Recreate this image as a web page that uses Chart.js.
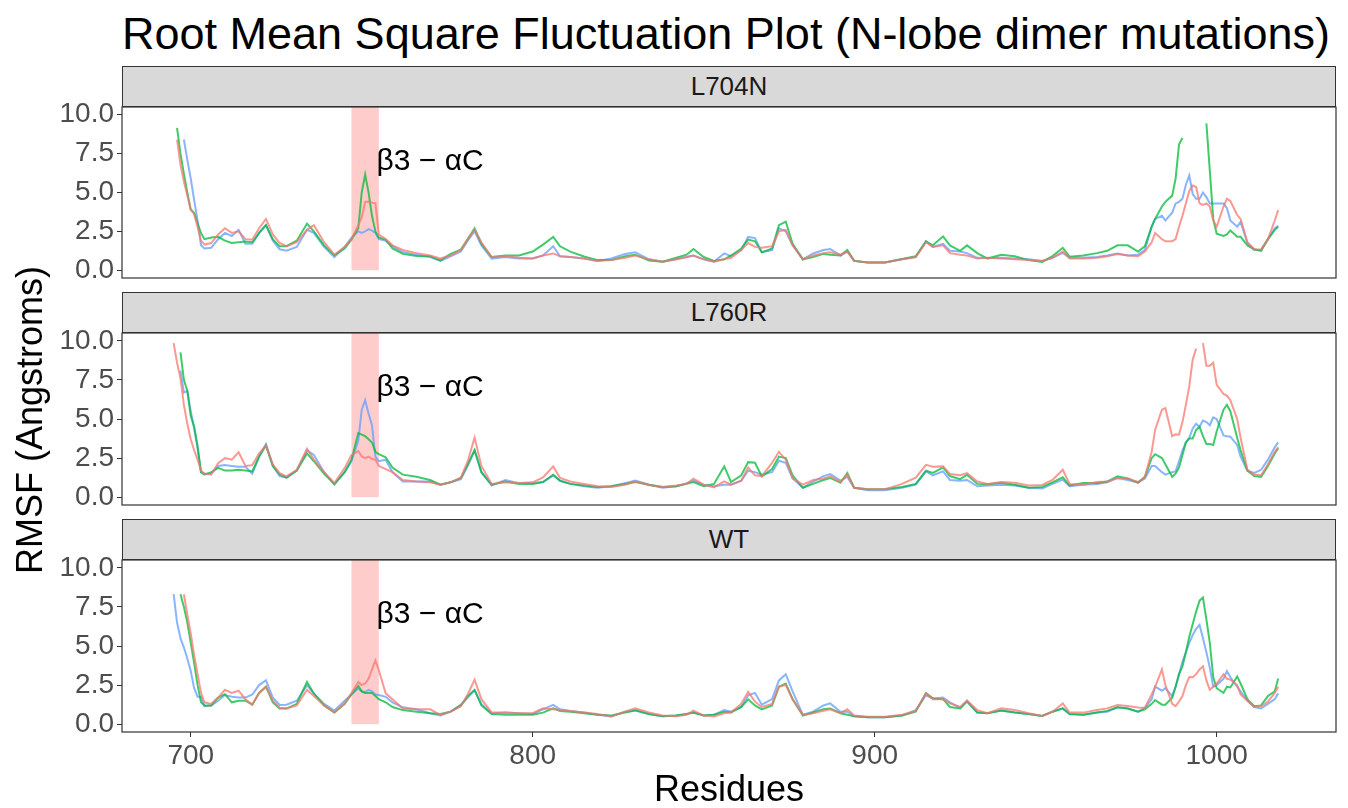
<!DOCTYPE html>
<html>
<head>
<meta charset="utf-8">
<script src="https://cdn.jsdelivr.net/npm/chart.js@4.4.1/dist/chart.umd.min.js"></script>
<style>
  body { margin: 0; background: #fff; font-family: "Liberation Sans", Arial, sans-serif; }
  #wrap { position: relative; width: 1348px; height: 808px; overflow: hidden; background: #fff; }
  canvas { position: absolute; left: 0; }
  .strip { position: absolute; left: 122px; width: 1212px; height: 39px; background: #d9d9d9;
           border: 1px solid #333; color: #1a1a1a; font-size: 26px; line-height: 39px; text-align: center; }
  .title { position: absolute; left: 122px; top: 8px; font-size: 45px; line-height: 52px; color: #000; white-space: nowrap; }
  .ylab { position: absolute; left: 30px; top: 420px; font-size: 36px; color: #000; white-space: nowrap;
          transform: translate(-50%, -50%) rotate(-90deg); }
  .xlab { position: absolute; left: 729px; top: 789px; font-size: 36px; color: #000; white-space: nowrap;
          transform: translate(-50%, -50%); }
</style>
</head>
<body>
<div id="wrap">
  <div class="title">Root Mean Square Fluctuation Plot (N-lobe dimer mutations)</div>
  <div class="strip" style="top:66px">L704N</div>
  <div class="strip" style="top:292px">L760R</div>
  <div class="strip" style="top:519px">WT</div>
  <canvas id="p1" width="1348" height="211" style="top:87px"></canvas>
  <canvas id="p2" width="1348" height="212" style="top:313px"></canvas>
  <canvas id="p3" width="1348" height="240" style="top:540px"></canvas>
  <div class="ylab">RMSF (Angstroms)</div>
  <div class="xlab">Residues</div>
</div>
<script>
// residue numbers shared by every series
const residues = [
  695,696,697,698,699,700,701,702,703,704,
  706,708,710,712,714,716,718,720,722,724,726,728,
  731,734,736,739,742,745,747,
  749,750,751,752,753,754,755,
  757,759,762,766,770,773,776,779,781,783,785,788,
  792,796,800,803,806,808,811,815,819,823,827,830,
  834,838,842,845,847,850,853,856,858,861,863,865,
  867,870,872,874,876,879,882,885,887,890,892,894,
  898,903,908,912,915,917,920,922,925,927,930,933,
  937,941,945,949,952,955,957,961,965,968,971,974,
  977,979,981,982,984,985,987,988,989,990,991,992,993,
  994,995,996,997,998,999,1000,1002,1003,1004,1006,1007,
  1009,1011,1013,1015,1017,1018
];

// L704N
const l704nRun1 = [
  null,8.4,6.8,5.7,4.8,3.9,3.6,2.8,1.9,1.65,
  1.75,2.3,2.7,2.4,2.5,2.0,1.97,2.7,3.3,2.3,1.75,1.55,
  1.8,2.6,2.9,1.8,1.0,1.5,2.0,
  2.9,3.4,4.4,4.4,4.35,4.3,2.3,
  2.0,1.6,1.3,1.1,0.95,0.75,0.95,1.3,2.0,2.6,1.8,0.85,
  0.9,0.8,0.75,0.95,1.08,0.9,0.85,0.75,0.6,0.65,0.8,0.95,
  0.7,0.55,0.7,0.85,0.95,0.7,0.55,0.7,0.8,1.3,1.75,1.5,
  1.44,1.55,2.5,2.6,1.6,0.7,0.95,1.1,1.15,1.0,1.2,0.6,
  0.5,0.5,0.7,0.85,1.8,1.5,1.6,1.1,1.0,0.95,0.75,0.8,
  0.75,0.7,0.65,0.6,0.8,1.2,0.75,0.75,0.8,0.9,1.05,0.95,
  0.9,1.2,1.8,2.4,2.0,1.86,1.86,2.0,2.8,3.5,4.3,5.1,5.45,
  5.35,4.3,4.2,4.3,4.1,3.2,2.8,4.1,4.6,4.45,3.55,3.3,
  1.8,1.33,1.35,2.0,3.2,3.87
];
const l704nRun2 = [
  null,9.15,7.5,6.2,5.0,3.9,3.7,3.0,2.4,2.0,
  2.1,2.15,1.9,1.75,1.8,1.85,1.8,2.4,2.9,2.0,1.55,1.55,
  1.9,3.0,2.5,1.6,0.97,1.4,1.97,
  2.7,5.0,6.15,5.0,3.5,2.5,2.1,
  1.97,1.4,1.05,0.92,0.9,0.63,1.05,1.33,2.0,2.7,1.7,0.85,
  0.95,0.95,1.2,1.65,2.14,1.54,1.2,0.88,0.65,0.65,0.9,1.0,
  0.63,0.55,0.8,1.0,1.37,0.85,0.6,0.7,0.95,1.4,1.97,1.86,
  1.15,1.4,2.9,3.13,1.7,0.7,0.85,1.05,1.0,0.95,1.3,0.6,
  0.5,0.5,0.72,0.9,1.86,1.6,2.18,1.6,1.25,1.6,1.1,0.75,
  1.0,0.9,0.65,0.53,0.91,1.44,0.87,0.95,1.1,1.25,1.6,1.6,
  1.2,1.54,2.8,3.3,4.1,4.4,4.8,5.9,8.1,8.5,null,null,null,
  null,null,null,9.45,6.4,3.3,2.35,2.2,2.3,2.56,2.15,2.15,
  1.6,1.35,1.25,2.0,2.6,2.8
];
const l704nRun3 = [
  null,null,null,8.4,7.1,5.9,4.5,3.2,1.6,1.4,
  1.45,2.0,2.4,2.2,2.6,1.7,1.7,2.4,2.9,1.9,1.35,1.25,
  1.5,2.6,2.4,1.5,0.85,1.5,2.1,
  2.5,2.4,2.5,2.64,2.55,2.4,2.0,
  1.9,1.55,1.15,1.0,0.85,0.6,0.9,1.2,1.9,2.5,1.6,0.75,
  0.85,0.75,0.75,0.95,1.54,0.9,0.85,0.75,0.6,0.75,1.05,1.16,
  0.7,0.55,0.7,0.85,0.95,0.7,0.55,1.08,0.9,1.3,2.14,2.07,
  1.16,1.3,2.7,2.5,1.6,0.7,1.08,1.3,1.37,0.95,1.2,0.6,
  0.5,0.5,0.7,0.85,1.86,1.5,1.7,1.25,1.2,1.1,0.8,0.78,
  0.8,0.75,0.7,0.6,0.8,1.12,0.8,0.8,0.85,0.95,1.08,0.95,
  1.0,1.3,2.8,3.3,3.5,3.2,3.7,4.3,4.4,4.6,5.5,6.1,4.9,
  4.6,4.6,5.0,4.7,4.3,4.3,4.3,4.3,4.0,3.2,2.8,3.1,
  1.75,1.3,1.3,2.0,2.7,2.85
];

// L760R
const l760rRun1 = [
  9.85,8.6,7.6,5.9,4.7,3.7,3.0,2.4,1.7,1.5,
  1.45,2.18,2.5,2.4,2.87,2.0,2.05,2.8,3.3,2.1,1.54,1.33,
  1.75,3.1,2.4,1.6,0.91,1.86,2.7,
  2.95,2.6,2.5,2.6,2.45,2.4,2.0,
  1.8,1.6,1.1,1.0,0.95,0.8,0.95,1.25,2.3,3.81,2.0,0.85,
  0.95,0.9,0.95,1.27,1.97,1.23,1.0,0.85,0.7,0.65,0.8,1.0,
  0.78,0.65,0.75,0.85,1.18,0.8,0.63,1.01,0.8,1.05,1.9,1.4,
  1.35,2.2,2.9,2.4,1.2,0.8,1.1,1.2,1.33,0.98,1.44,0.6,
  0.5,0.5,0.85,1.25,2.07,1.95,1.97,1.48,1.4,1.54,1.0,0.85,
  0.97,0.92,0.75,0.78,1.1,1.75,0.85,0.8,0.97,1.0,1.23,1.2,
  0.97,1.27,2.9,4.3,5.6,5.7,3.9,4.02,4.0,4.8,5.9,7.1,8.8,
  9.5,null,9.85,8.4,8.4,8.6,7.2,6.6,6.5,6.2,5.0,3.8,
  1.75,1.45,1.4,2.1,2.9,3.2
];
const l760rRun2 = [
  null,null,9.26,7.5,6.8,5.2,4.5,3.3,1.6,1.44,
  1.6,1.88,1.7,1.7,1.75,1.7,1.65,2.6,3.3,2.0,1.45,1.25,
  1.7,2.8,2.3,1.5,0.85,1.6,2.4,
  4.1,4.0,3.9,3.7,3.5,2.9,2.75,
  2.55,1.9,1.44,1.3,1.1,0.8,0.95,1.23,2.1,3.0,1.6,0.8,
  1.0,0.85,0.85,0.97,1.44,1.05,0.85,0.75,0.65,0.7,0.85,0.97,
  0.8,0.65,0.7,0.85,0.97,0.7,0.85,1.97,0.97,1.4,2.24,2.2,
  1.33,1.8,2.6,2.5,1.4,0.6,0.85,1.1,1.23,0.92,1.54,0.6,
  0.5,0.53,0.65,0.85,1.69,1.55,1.9,1.35,1.15,1.44,0.85,0.82,
  0.92,0.8,0.6,0.65,0.95,1.27,0.75,0.9,0.9,1.0,1.33,1.2,
  0.92,1.3,2.5,2.75,2.5,2.1,1.3,1.5,1.9,2.7,3.5,3.76,3.76,
  4.3,4.5,3.9,3.4,3.4,3.34,4.2,5.6,5.9,5.5,3.8,3.0,
  1.7,1.35,1.3,2.0,2.8,3.13
];
const l760rRun3 = [
  null,null,8.1,6.7,6.8,5.5,4.4,3.1,1.6,1.5,
  1.5,2.0,2.05,2.0,1.95,1.95,1.5,2.6,3.4,2.0,1.35,1.25,
  1.7,3.0,2.7,1.6,0.8,1.6,2.3,
  3.6,5.6,6.2,5.35,4.6,2.6,2.3,
  2.4,1.6,1.0,1.0,1.0,0.8,0.95,1.15,2.0,3.0,1.6,0.75,
  1.1,0.9,0.9,0.97,1.4,1.05,0.85,0.7,0.6,0.7,0.9,1.06,
  0.8,0.6,0.7,0.9,1.06,0.8,0.7,0.8,0.8,1.06,1.69,1.6,
  1.44,1.6,2.33,2.2,1.2,0.6,1.0,1.35,1.48,1.06,1.3,0.6,
  0.45,0.45,0.6,0.8,1.65,1.4,1.65,1.1,1.05,1.1,0.7,0.75,
  0.8,0.75,0.6,0.55,0.85,1.12,0.7,0.8,0.85,0.95,1.23,1.1,
  0.95,1.2,2.0,2.0,1.6,1.44,1.6,1.65,2.3,3.0,3.5,3.8,4.4,
  4.7,4.5,4.9,4.8,4.6,5.1,5.0,3.95,3.9,3.87,3.34,2.6,
  1.7,1.55,1.75,2.4,3.2,3.5
];

// WT
const wtRun1 = [
  null,null,null,8.31,7.0,5.8,4.4,3.2,2.0,1.4,
  1.3,1.7,2.2,2.0,2.14,1.6,1.25,2.0,2.4,1.5,1.05,1.0,
  1.2,2.2,1.8,1.2,0.75,1.3,2.0,
  2.7,2.5,2.6,2.9,3.5,4.08,3.45,
  1.97,1.6,1.0,0.95,0.95,0.6,0.8,1.15,1.9,2.85,1.6,0.75,
  0.75,0.7,0.7,1.01,0.95,0.9,0.85,0.75,0.65,0.5,0.8,1.01,
  0.75,0.55,0.5,0.6,0.87,0.55,0.5,0.7,0.75,1.3,2.07,1.44,
  1.1,1.3,2.4,2.5,1.6,0.6,0.7,0.85,0.95,0.7,0.95,0.55,
  0.48,0.48,0.6,0.85,1.97,1.6,1.6,1.33,1.1,1.5,0.9,0.7,
  1.01,0.91,0.7,0.53,0.8,1.33,0.74,0.74,0.91,1.01,1.23,1.16,
  1.07,1.05,1.9,2.39,3.5,2.5,1.3,1.16,1.45,1.8,2.5,3.02,3.0,
  3.2,3.5,3.7,2.8,2.2,2.4,2.6,3.2,2.9,2.85,2.5,1.9,
  1.5,1.1,1.15,1.45,2.0,2.39
];
const wtRun2 = [
  null,null,8.31,7.5,6.5,5.2,3.9,2.5,1.4,1.2,
  1.2,1.7,1.92,1.4,1.5,1.5,1.25,2.0,2.4,1.4,1.0,1.0,
  1.3,2.7,1.95,1.2,0.75,1.3,1.9,
  2.45,2.1,2.0,2.0,2.0,1.8,1.6,
  1.4,1.1,0.9,0.8,0.7,0.65,0.8,1.2,1.8,2.18,1.2,0.65,
  0.6,0.6,0.6,0.74,1.01,0.85,0.8,0.7,0.6,0.55,0.75,0.87,
  0.65,0.5,0.55,0.65,0.74,0.55,0.6,0.8,0.75,1.1,1.59,1.2,
  0.95,1.2,2.4,2.6,1.6,0.55,0.75,0.95,1.0,0.7,0.6,0.5,
  0.45,0.45,0.55,0.8,2.0,1.65,1.6,1.1,1.0,1.45,0.75,0.7,
  0.87,0.75,0.65,0.53,0.8,1.01,0.65,0.6,0.74,0.85,1.08,1.0,
  0.8,0.95,1.3,1.54,1.25,1.25,1.7,2.39,3.2,3.7,4.6,5.6,6.4,
  7.2,7.9,8.1,6.7,5.2,3.0,2.3,2.0,2.4,2.35,3.05,2.6,
  1.6,1.15,1.2,1.8,2.1,2.92
];
const wtRun3 = [
  8.31,6.5,5.5,4.9,4.2,3.4,2.3,1.75,1.75,1.15,
  1.2,1.5,1.86,1.75,1.7,1.7,1.9,2.5,2.8,1.7,1.23,1.25,
  1.5,2.49,1.97,1.3,0.87,1.5,1.9,
  2.28,2.1,2.05,2.2,2.1,1.9,1.86,
  1.75,1.4,1.08,0.95,0.7,0.55,0.8,1.25,1.7,2.18,1.3,0.68,
  0.75,0.7,0.65,0.95,1.23,0.95,0.85,0.75,0.6,0.5,0.8,0.91,
  0.65,0.5,0.55,0.65,0.74,0.55,0.6,0.91,0.8,1.1,1.85,2.0,
  1.25,1.6,2.8,3.2,2.1,0.6,0.8,1.2,1.33,0.8,0.8,0.5,
  0.45,0.45,0.55,0.9,1.85,1.65,1.7,1.4,1.05,1.5,0.75,0.7,
  0.87,0.75,0.65,0.53,0.8,1.01,0.65,0.6,0.74,0.8,1.08,1.0,
  0.8,1.05,1.6,2.4,2.14,2.3,1.8,2.4,3.2,4.0,4.6,5.2,5.7,
  6.1,6.35,5.5,4.6,3.6,2.4,2.5,2.9,3.4,3.0,2.4,2.1,
  1.5,1.1,1.0,1.3,1.6,1.97
];

const runLabels = ['Run 1', 'Run 2', 'Run 3'];
const runColors = ['rgba(248,118,109,0.75)', 'rgba(0,186,56,0.75)', 'rgba(97,156,255,0.75)'];
const xTicks = [700, 800, 900, 1000];
const yTicks = [0, 2.5, 5, 7.5, 10];
const regionStart = 747, regionEnd = 755;   // beta3 - alphaC
const regionLabel = 'β3 − αC';
const labelAt = [770, 7];

Chart.defaults.font.family = '"Liberation Sans", Arial, sans-serif';
Chart.defaults.animation = false;

// shaded region, label and panel border
const panelDeco = {
  id: 'panelDeco',
  beforeDatasetsDraw(chart) {
    const {ctx, chartArea: a, scales: {x, y}} = chart;
    const x0 = x.getPixelForValue(regionStart), x1 = x.getPixelForValue(regionEnd);
    ctx.save();
    ctx.fillStyle = 'rgba(255,0,0,0.2)';
    ctx.fillRect(x0, a.top, x1 - x0, y.getPixelForValue(0) - a.top);
    ctx.restore();
  },
  afterDatasetsDraw(chart) {
    const {ctx, chartArea: a, scales: {x, y}} = chart;
    ctx.save();
    ctx.fillStyle = '#000';
    ctx.font = '30px "Liberation Sans", Arial, sans-serif';
    ctx.textAlign = 'center';
    ctx.textBaseline = 'middle';
    ctx.fillText(regionLabel, x.getPixelForValue(labelAt[0]), y.getPixelForValue(labelAt[1]));
    ctx.strokeStyle = '#333';
    ctx.lineWidth = 1.2;
    ctx.strokeRect(a.left, a.top, a.right - a.left, a.bottom - a.top);
    ctx.restore();
  }
};

function makePanel(id, runs, showX) {
  return new Chart(document.getElementById(id), {
    type: 'line',
    data: {
      datasets: runs.map((vals, i) => ({
        label: runLabels[i],
        data: residues.map((r, j) => ({x: r, y: vals[j]})),
        borderColor: runColors[i],
        borderWidth: 2,
        pointRadius: 0,
        tension: 0,
        spanGaps: false
      }))
    },
    options: {
      responsive: false,
      devicePixelRatio: 1,
      layout: {padding: {top: 20, right: 12, bottom: showX ? 8 : 20, left: 0}},
      plugins: {legend: {display: false}, tooltip: {enabled: false}},
      scales: {
        x: {
          type: 'linear',
          display: showX,
          min: 679.9,
          max: 1034.9,
          afterBuildTicks: s => { s.ticks = xTicks.map(v => ({value: v})); },
          afterFit: s => { if (showX) s.height = 40; },
          grid: {drawOnChartArea: false, color: '#333', tickLength: 5},
          border: {display: false},
          ticks: {color: '#4d4d4d', font: {size: 28}, padding: 2, maxRotation: 0,
                  autoSkip: false, callback: v => String(v)}
        },
        y: {
          min: -0.5,
          max: 10.5,
          afterBuildTicks: s => { s.ticks = yTicks.map(v => ({value: v})); },
          afterFit: s => { s.width = 122; },
          grid: {drawOnChartArea: false, color: '#333', tickLength: 5},
          border: {display: false},
          ticks: {color: '#4d4d4d', font: {size: 28}, padding: 3, autoSkip: false,
                  callback: v => v.toFixed(1)}
        }
      }
    },
    plugins: [panelDeco]
  });
}

makePanel('p1', [l704nRun1, l704nRun2, l704nRun3], false);
makePanel('p2', [l760rRun1, l760rRun2, l760rRun3], false);
makePanel('p3', [wtRun1, wtRun2, wtRun3], true);
</script>
</body>
</html>
